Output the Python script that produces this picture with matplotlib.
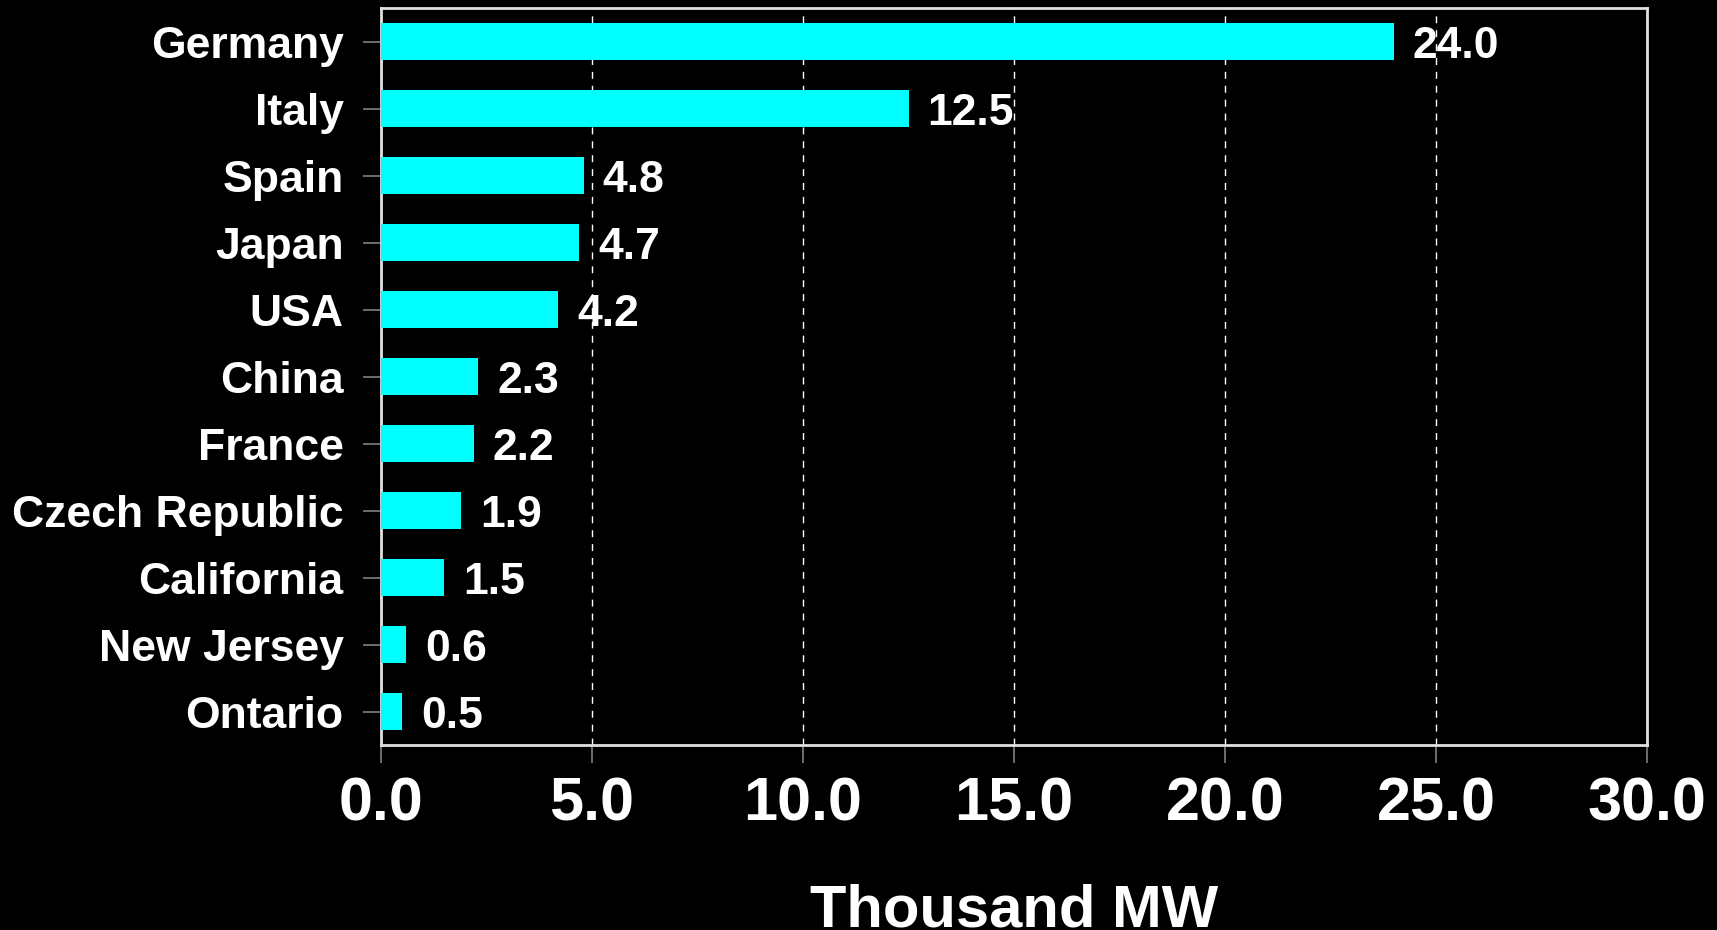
import matplotlib
matplotlib.use("Agg")
import matplotlib.pyplot as plt

countries = ["Germany", "Italy", "Spain", "Japan", "USA", "China", "France",
             "Czech Republic", "California", "New Jersey", "Ontario"]
capacity = [24.0, 12.5, 4.8, 4.7, 4.2, 2.3, 2.2, 1.9, 1.5, 0.6, 0.5]
xticks = [0, 5, 10, 15, 20, 25, 30]

plt.rcParams['font.family'] = ['Liberation Sans', 'DejaVu Sans']
plt.rcParams['font.weight'] = 'bold'

fig = plt.figure(figsize=(17.17, 9.3), dpi=100, facecolor='black')
ax = fig.add_axes([381 / 1717, 1 - 745 / 930, (1647 - 381) / 1717, (745 - 8) / 930])
ax.set_facecolor('black')

y = range(len(countries))
ax.barh(y, capacity, height=0.55, color='#00ffff', zorder=3)
for yi, v in zip(y, capacity):
    ax.text(v + 0.45, yi, f"{v:.1f}", color='white', fontsize=32, fontweight='bold',
            va='center_baseline', ha='left', zorder=4)

ax.set_ylim(len(countries) - 0.5, -0.5)
ax.set_xlim(0, 30)
ax.set_yticks(list(y))
ax.set_yticklabels(countries)
ax.set_xticks(xticks)
ax.set_xticklabels([f"{t:.1f}" for t in xticks])

ax.tick_params(axis='y', colors='#808080', length=13, width=1.2, pad=14,
               labelcolor='white', labelsize=32)
ax.tick_params(axis='x', colors='#808080', length=13, width=1.2, pad=10,
               labelcolor='white', labelsize=44)
for lab in ax.get_xticklabels() + ax.get_yticklabels():
    lab.set_fontweight('bold')

ax.grid(axis='x', color='white', linestyle=(0, (5, 5)), linewidth=1, zorder=1)
for s in ax.spines.values():
    s.set_color('#e0e0e0')
    s.set_linewidth(2)

ax.set_xlabel("Thousand MW", color='white', fontsize=43, fontweight='bold', labelpad=36)

fig.savefig("out.png", dpi=100, facecolor='black')
